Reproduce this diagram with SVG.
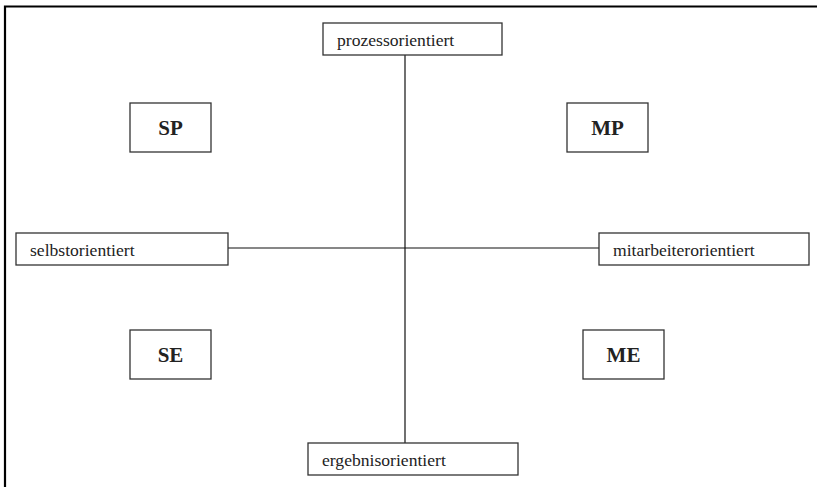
<svg xmlns="http://www.w3.org/2000/svg" width="817" height="487" viewBox="0 0 817 487">
<style>
.box{fill:#fff;stroke:#333;stroke-width:1.3}
.lbl{font-family:"Liberation Serif","Times New Roman",serif;font-size:17.6px;fill:#222}
.big{font-family:"Liberation Serif","Times New Roman",serif;font-size:21px;font-weight:bold;fill:#222;text-anchor:middle}
.ln{stroke:#111;stroke-width:1.2;fill:none}
</style>
<rect width="817" height="487" fill="#fff"/>
<g id="frame"><path d="M5 487 V6.5 H817" fill="none" stroke="#000" stroke-width="2.2"/></g>
<g id="connectors">
<line class="ln" x1="405" y1="55" x2="405" y2="443"/>
<line class="ln" x1="228" y1="248" x2="599" y2="248"/>
</g>
<g id="prozessorientiert"><rect class="box" x="323" y="23" width="179" height="32"/><text class="lbl" x="337" y="45.5">prozessorientiert</text></g>
<g id="selbstorientiert"><rect class="box" x="16" y="233" width="212" height="32"/><text class="lbl" x="30" y="255.5">selbstorientiert</text></g>
<g id="mitarbeiterorientiert"><rect class="box" x="599" y="233" width="210" height="32"/><text class="lbl" x="613" y="255.5">mitarbeiterorientiert</text></g>
<g id="ergebnisorientiert"><rect class="box" x="308" y="443" width="210" height="32"/><text class="lbl" x="322" y="465.5">ergebnisorientiert</text></g>
<g id="SP"><rect class="box" x="130" y="103" width="81" height="49"/><text class="big" x="170.5" y="134.5">SP</text></g>
<g id="MP"><rect class="box" x="567" y="103" width="81" height="49"/><text class="big" x="607.5" y="134.5">MP</text></g>
<g id="SE"><rect class="box" x="130" y="330" width="81" height="49"/><text class="big" x="170.5" y="361.5">SE</text></g>
<g id="ME"><rect class="box" x="583" y="330" width="81" height="49"/><text class="big" x="623.5" y="361.5">ME</text></g>
</svg>
